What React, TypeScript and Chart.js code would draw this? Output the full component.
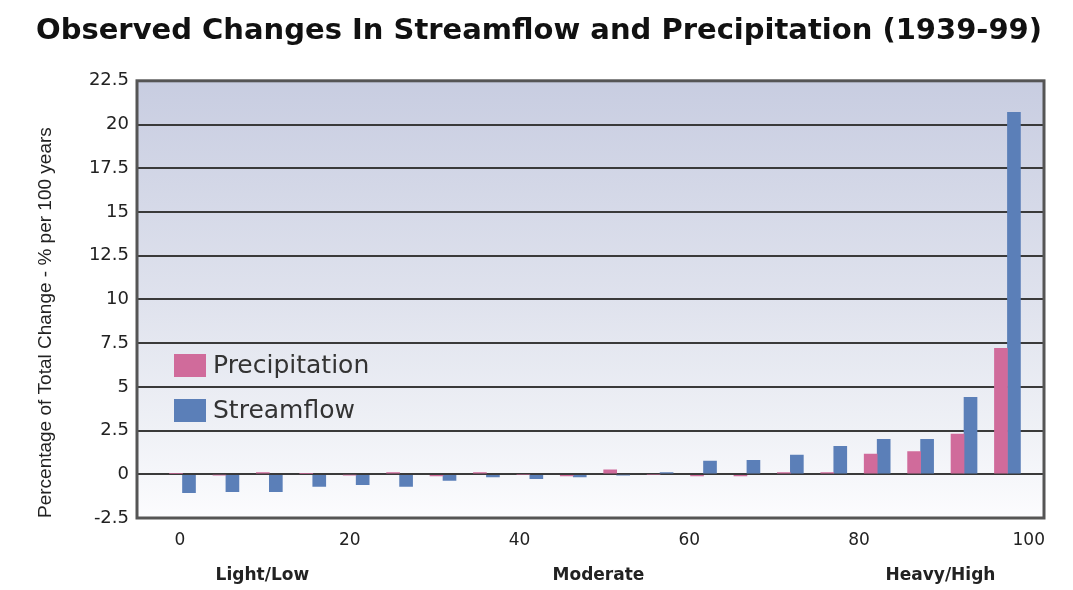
import React, { useEffect, useRef } from 'react';
import { Chart, registerables } from 'chart.js';

Chart.register(...registerables);

// Percentile bins (centres of the 5%-wide daily-precipitation classes)
const binCenters = [2.5, 7.5, 12.5, 17.5, 22.5, 27.5, 32.5, 37.5, 42.5, 47.5, 52.5, 57.5, 62.5, 67.5, 72.5, 77.5, 82.5, 87.5, 92.5, 97.5];

const precipitation = [0.05, -0.05, 0.1, 0.05, -0.05, 0.1, -0.1, 0.1, 0.0, -0.1, 0.25, 0.0, -0.1, -0.1, 0.1, 0.1, 1.15, 1.3, 2.3, 7.2];
const streamflow = [-1.05, -1.0, -1.0, -0.7, -0.6, -0.7, -0.35, -0.15, -0.25, -0.15, -0.05, 0.1, 0.75, 0.8, 1.1, 1.6, 2.0, 2.0, 4.4, 20.7];

const seriesNames = ['Precipitation', 'Streamflow'];
const xTickValues = [0, 20, 40, 60, 80, 100];
const rangeLabels = ['Light/Low', 'Moderate', 'Heavy/High'];
const titleText = 'Observed Changes In Streamflow and Precipitation (1939-99)';
const yAxisTitle = 'Percentage of Total Change - % per 100 years';

const PRECIP_COLOR = '#d06b9b';
const STREAM_COLOR = '#5b7fb8';

const backgroundPlugin = {
  id: 'plotBackground',
  beforeDraw(chart: any) {
    const { ctx, chartArea, width, height } = chart;
    ctx.save();
    ctx.fillStyle = '#ffffff';
    ctx.fillRect(0, 0, width, height);
    if (chartArea) {
      const g = ctx.createLinearGradient(0, chartArea.top, 0, chartArea.bottom);
      g.addColorStop(0, '#c8cde1');
      g.addColorStop(0.5, '#dfe2ed');
      g.addColorStop(0.8, '#eff1f6');
      g.addColorStop(1, '#fcfcfe');
      ctx.fillStyle = g;
      ctx.fillRect(chartArea.left, chartArea.top, chartArea.right - chartArea.left, chartArea.bottom - chartArea.top);
    }
    ctx.restore();
  },
};

const frameLegendPlugin = {
  id: 'frameLegend',
  afterDatasetsDraw(chart: any, _args: any, opts: any) {
    const { ctx, chartArea } = chart;
    ctx.save();
    ctx.strokeStyle = '#555555';
    ctx.lineWidth = 3;
    ctx.strokeRect(chartArea.left, chartArea.top, chartArea.right - chartArea.left, chartArea.bottom - chartArea.top);

    const ds = chart.data.datasets;
    ctx.font = opts.font;
    ctx.textBaseline = 'middle';
    ctx.textAlign = 'left';
    ds.forEach((d: any, i: number) => {
      const y = opts.rows[i];
      ctx.fillStyle = d.backgroundColor;
      ctx.fillRect(opts.boxX, y, opts.boxW, opts.boxH);
      ctx.fillStyle = '#333333';
      ctx.fillText(d.label, opts.textX, y + opts.boxH / 2 + 1);
    });
    ctx.restore();
  },
};

export default function App() {
  const canvasRef = useRef<HTMLCanvasElement | null>(null);

  useEffect(() => {
    if (!canvasRef.current) return;
    const chart = new Chart(canvasRef.current, {
      type: 'bar',
      data: {
        labels: binCenters,
        datasets: [
          {
            label: seriesNames[0],
            data: precipitation,
            backgroundColor: PRECIP_COLOR,
            xAxisID: 'x',
            yAxisID: 'y',
            barThickness: 13,
          },
          {
            label: seriesNames[1],
            data: streamflow,
            backgroundColor: STREAM_COLOR,
            xAxisID: 'x',
            yAxisID: 'y',
            barThickness: 13,
          },
        ],
      },
      options: {
        responsive: false,
        animation: false,
        events: [],
        layout: { padding: { left: 34, right: 29, top: 0, bottom: 0 } },
        plugins: {
          legend: { display: false },
          tooltip: { enabled: false },
          title: {
            display: true,
            text: titleText,
            color: '#111111',
            font: { family: 'DejaVu Sans', size: 29, weight: 'bold' },
            padding: { top: 14, bottom: 32 },
          },
          frameLegend: {
            font: '25px "DejaVu Sans"',
            boxX: 174,
            boxW: 32,
            boxH: 23,
            textX: 213,
            rows: [354, 399],
          },
        } as any,
        scales: {
          x: {
            type: 'linear',
            display: false,
            offset: false,
            min: -2.74,
            max: 101.71,
          },
          x2: {
            type: 'linear',
            axis: 'x',
            position: 'bottom',
            weight: 1,
            offset: false,
            min: -5.07,
            max: 101.8,
            grid: { display: false, drawTicks: false, offset: false },
            border: { display: false },
            afterBuildTicks: (s: any) => {
              s.ticks = xTickValues.map((v) => ({ value: v }));
            },
            afterFit: (s: any) => {
              s.height = 40;
            },
            ticks: {
              padding: 12,
              color: '#222222',
              font: { family: 'DejaVu Sans', size: 17 },
              callback: (v: any) => String(v),
            },
          },
          x3: {
            type: 'linear',
            axis: 'x',
            position: 'bottom',
            weight: 2,
            offset: false,
            min: -5.07,
            max: 101.8,
            grid: { display: false, drawTicks: false, offset: false },
            border: { display: false },
            afterBuildTicks: (s: any) => {
              s.ticks = [9.7, 49.3, 89.6].map((v) => ({ value: v }));
            },
            afterFit: (s: any) => {
              s.height = 32;
            },
            ticks: {
              padding: 7,
              color: '#222222',
              font: { family: 'DejaVu Sans', size: 17, weight: 'bold' },
              callback: (_v: any, i: number) => rangeLabels[i],
            },
          },
          y: {
            type: 'linear',
            min: -2.5,
            max: 22.5,
            grid: { color: '#3a3a3a', lineWidth: 2, drawTicks: false },
            border: { display: false },
            afterFit: (s: any) => {
              s.width = 103;
            },
            ticks: {
              stepSize: 2.5,
              padding: 8,
              color: '#222222',
              font: { family: 'DejaVu Sans', size: 18 },
            },
            title: {
              display: true,
              text: yAxisTitle,
              align: 'start',
              padding: 0,
              color: '#222222',
              font: { family: 'Liberation Sans', size: 19 },
            },
          },
        } as any,
      },
      plugins: [backgroundPlugin, frameLegendPlugin],
    } as any);
    return () => chart.destroy();
  }, []);

  return (
    <div style={{ position: 'absolute', left: 0, top: 0, width: 1073, height: 590, background: '#ffffff' }}>
      <canvas ref={canvasRef} width={1073} height={590} style={{ display: 'block' }} />
    </div>
  );
}
